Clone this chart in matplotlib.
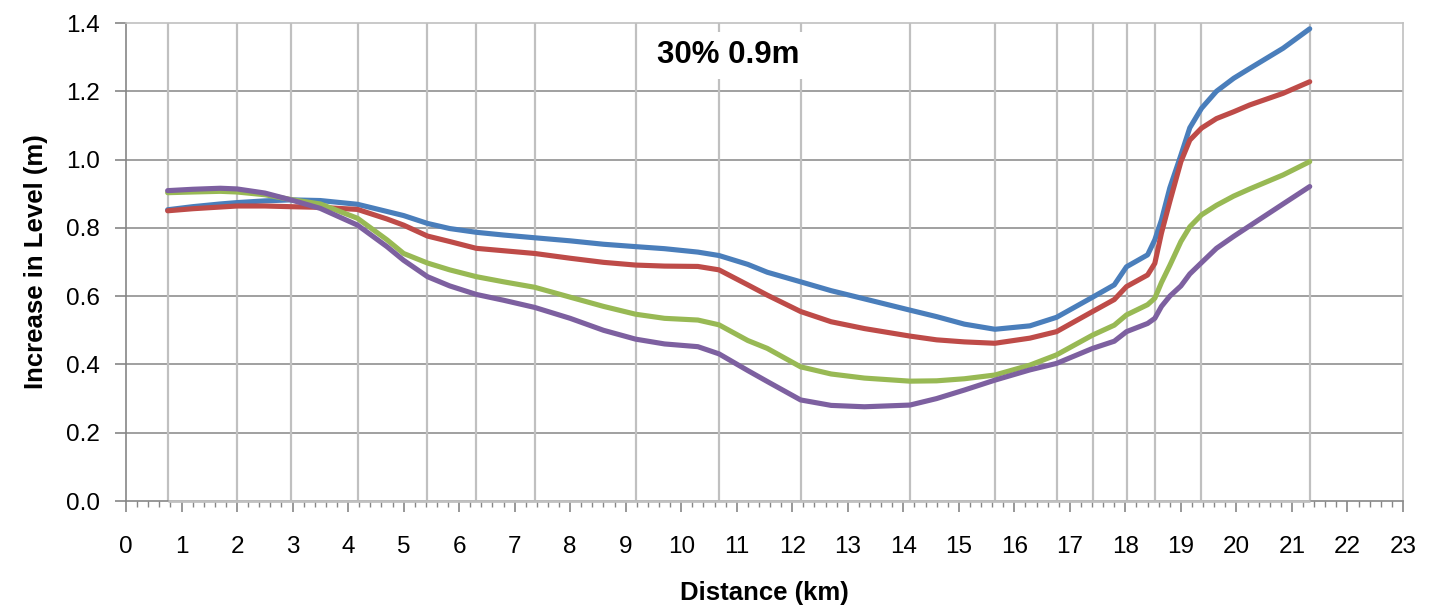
import matplotlib
matplotlib.use("Agg")
import matplotlib.pyplot as plt
from matplotlib.ticker import MultipleLocator, FormatStrFormatter

plt.rcParams['font.family'] = ['Liberation Sans', 'DejaVu Sans']

# cross-section positions (km) - drawn as vertical lines
sections = [0.75, 2.0, 2.97, 4.17, 5.43, 6.31, 7.36, 9.18, 10.68, 12.15,
            14.12, 15.65, 16.76, 17.41, 18.02, 18.53, 19.37, 21.32]

dist = [0.75, 1.2, 1.7, 2.0, 2.5, 2.97, 3.5, 4.17, 4.7, 5.0, 5.43, 5.83,
        6.31, 6.8, 7.36, 8.0, 8.6, 9.18, 9.7, 10.3, 10.68, 11.2, 11.55,
        12.15, 12.7, 13.3, 14.12, 14.6, 15.1, 15.65, 16.28, 16.76, 17.41,
        17.8, 18.02, 18.4, 18.53, 18.65, 18.8, 19.0, 19.16, 19.37, 19.64,
        19.95, 20.24, 20.84, 21.32]

blue = [0.853, 0.862, 0.870, 0.874, 0.879, 0.882, 0.880, 0.869, 0.848, 0.836,
        0.813, 0.798, 0.787, 0.779, 0.771, 0.762, 0.752, 0.745, 0.739, 0.729,
        0.719, 0.693, 0.670, 0.642, 0.616, 0.592, 0.559, 0.540, 0.518, 0.503,
        0.513, 0.538, 0.597, 0.633, 0.686, 0.721, 0.765, 0.823, 0.917, 1.013,
        1.093, 1.150, 1.200, 1.238, 1.267, 1.326, 1.383]

red = [0.850, 0.856, 0.861, 0.864, 0.864, 0.862, 0.860, 0.854, 0.826, 0.808,
       0.776, 0.760, 0.740, 0.733, 0.725, 0.711, 0.699, 0.691, 0.688, 0.687,
       0.677, 0.633, 0.603, 0.555, 0.525, 0.505, 0.483, 0.472, 0.466, 0.462,
       0.477, 0.496, 0.555, 0.590, 0.628, 0.662, 0.696, 0.785, 0.877, 0.994,
       1.057, 1.092, 1.120, 1.140, 1.160, 1.194, 1.228]

green = [0.903, 0.905, 0.907, 0.905, 0.897, 0.883, 0.870, 0.828, 0.765, 0.725,
         0.697, 0.677, 0.657, 0.642, 0.626, 0.597, 0.570, 0.547, 0.535, 0.530,
         0.516, 0.470, 0.447, 0.393, 0.372, 0.360, 0.351, 0.352, 0.358, 0.369,
         0.398, 0.428, 0.486, 0.515, 0.545, 0.575, 0.594, 0.640, 0.690, 0.760,
         0.803, 0.838, 0.866, 0.893, 0.914, 0.955, 0.994]

purple = [0.909, 0.913, 0.916, 0.914, 0.902, 0.882, 0.857, 0.808, 0.745, 0.705,
          0.657, 0.630, 0.605, 0.588, 0.567, 0.535, 0.500, 0.474, 0.460, 0.452,
          0.431, 0.382, 0.350, 0.296, 0.280, 0.276, 0.281, 0.300, 0.325, 0.354,
          0.384, 0.403, 0.447, 0.468, 0.496, 0.520, 0.535, 0.570, 0.600, 0.630,
          0.665, 0.698, 0.740, 0.775, 0.806, 0.870, 0.921]

series = [(blue, '#4A7EBB'), (red, '#BE4B48'), (green, '#98B954'), (purple, '#7D60A0')]

fig = plt.figure(figsize=(14.4, 6.09), dpi=100)
ax = fig.add_axes([126/1440, 108/609, (1403-126)/1440, (501-23)/609])

ax.set_xlim(0, 23)
ax.set_ylim(0, 1.4)

# horizontal gridlines
for yv in [0.2, 0.4, 0.6, 0.8, 1.0, 1.2]:
    ax.axhline(yv, color='#868686', lw=1.1, zorder=1)

# section lines
ax.vlines(sections, 0, 1.4, colors='#C0C0C0', lw=1.6, zorder=1)
ax.hlines(0, sections[0], sections[-1], colors='#C0C0C0', lw=2, zorder=3, clip_on=False)

for ys, c in series:
    ax.plot(dist, ys, color=c, lw=3.7, solid_joinstyle='round',
            solid_capstyle='round', zorder=4)

ax.xaxis.set_major_locator(MultipleLocator(1))
ax.xaxis.set_minor_locator(MultipleLocator(0.2))
ax.yaxis.set_major_locator(MultipleLocator(0.2))
ax.yaxis.set_major_formatter(FormatStrFormatter('%.1f'))

ax.tick_params(axis='x', which='major', length=8, width=1.2, color='#868686',
               labelsize=17.5, pad=17)
ax.tick_params(axis='x', which='minor', length=4, width=1.0, color='#868686')
ax.tick_params(axis='y', which='major', length=8, width=1.2, color='#868686',
               labelsize=17.5, pad=11)

for s in ['left', 'bottom']:
    ax.spines[s].set_color('#868686')
    ax.spines[s].set_linewidth(1.2)
for s in ['top', 'right']:
    ax.spines[s].set_color('#C0C0C0')
    ax.spines[s].set_linewidth(1.2)

ax.set_xlabel('Distance (km)', fontsize=18.5, fontweight='bold', labelpad=17)
ax.set_ylabel('Increase in Level (m)', fontsize=18.5, fontweight='bold', labelpad=13)

ax.text(10.84, 1.306, '30% 0.9m', fontsize=22.5, fontweight='bold', ha='center',
        va='center', zorder=5,
        bbox=dict(facecolor='white', edgecolor='none', pad=6))

fig.savefig('out.png', dpi=100)
